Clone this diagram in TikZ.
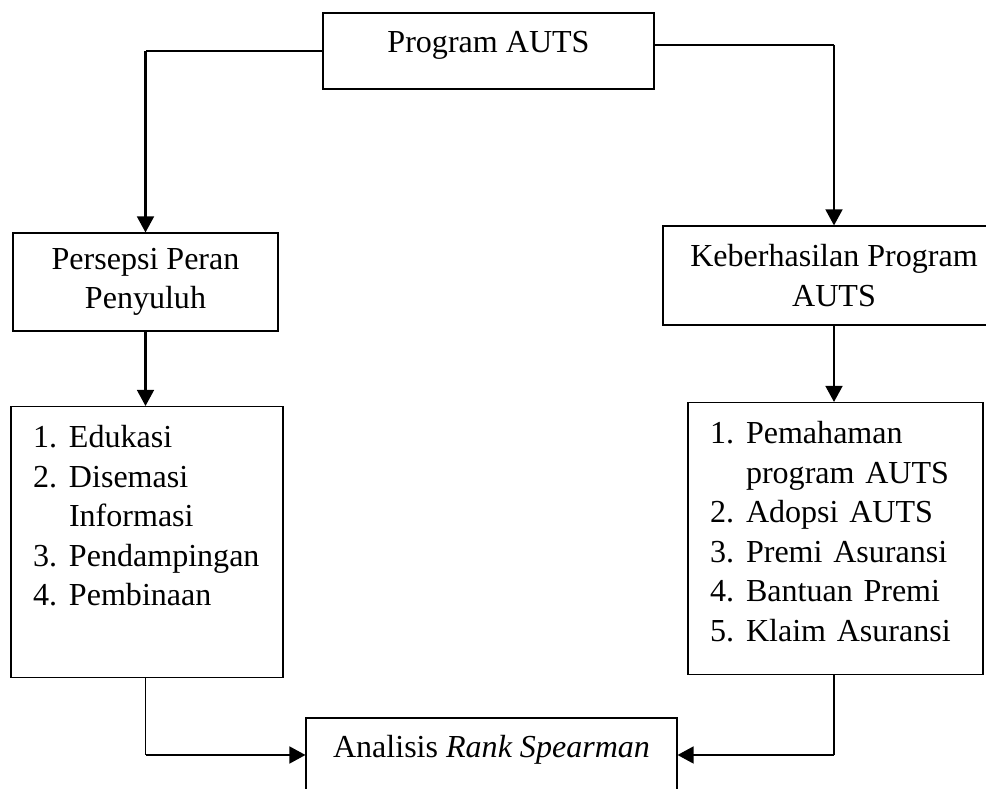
\documentclass[tikz,border=0pt]{standalone}
\usepackage{fontspec}
\setmainfont{Liberation Serif}
\usetikzlibrary{arrows.meta}
\tikzset{
  box/.style={draw, line width=0.75pt, inner sep=0pt},
  link/.style={line width=0.75pt},
  arrowlink/.style={line width=1.5pt, -{Triangle[length=0.4cm, width=0.42cm]}}
}
\newcommand{\itm}[2]{\makebox[0.9cm][l]{#1}\mbox{#2}}

\begin{document}
\begin{tikzpicture}[font=\fontsize{22.8}{28.1}\selectfont]
    \useasboundingbox (0,0) rectangle (24.65,19.725);

    % Nodes
    \node[box, anchor=base, minimum width=8.275cm, text height=1.0cm, text depth=0.9cm] (prog) at (12.2125,18.4) {Program AUTS};
    \node[box, align=center, minimum width=6.625cm, minimum height=2.45cm] (pers) at (3.6375,12.675) {Persepsi Peran\\Penyuluh};
    \node[box, align=center, minimum width=8.55cm, minimum height=2.475cm] (keb) at (20.85,12.8375) {Keberhasilan Program\\AUTS};
    \node[box, anchor=north, inner xsep=0.55cm, text width=5.7cm, text height=1.025cm, text depth=5.75cm] (lst1) at (3.675,9.575)
      {\itm{1.}{Edukasi}\\
       \itm{2.}{Disemasi}\\
       \itm{}{Informasi}\\
       \itm{3.}{Pendampingan}\\
       \itm{4.}{Pembinaan}};
    \node[box, anchor=north, inner xsep=0.55cm, text width=6.275cm, text height=1.025cm, text depth=5.775cm] (lst2) at (20.8875,9.675)
      {\itm{1.}{Pemahaman}\\
       \itm{}{program AUTS}\\
       \itm{2.}{Adopsi AUTS}\\
       \itm{3.}{Premi Asuransi}\\
       \itm{4.}{Bantuan Premi}\\
       \itm{5.}{Klaim Asuransi}};
    \node[box, anchor=base, minimum width=9.275cm, text height=1.0cm, text depth=0.85cm] (ana) at (12.2875,0.775) {Analisis \textit{Rank Spearman}};

    % Corners
    \coordinate (pe) at ([yshift=0.15cm]prog.east);
    \coordinate (cl) at (pers.north |- prog.west);
    \coordinate (cr) at (keb.north |- pe);
    \coordinate (bl) at (pers.south |- ana.west);
    \coordinate (br) at (keb.south |- ana.east);

    % Top branches
    \draw[link] (prog.west) -- (cl);
    \draw[arrowlink] (cl) -- (pers.north);
    \draw[link] (pe) -- (cr);
    \draw[arrowlink] (cr) -- (keb.north);

    % Down to the lists
    \draw[arrowlink] (pers.south) -- (pers.south |- lst1.north);
    \draw[arrowlink] (keb.south) -- (keb.south |- lst2.north);

    % Into the analysis
    \draw[link] (pers.south |- lst1.south) -- (bl);
    \draw[arrowlink] (bl) -- (ana.west);
    \draw[link] (keb.south |- lst2.south) -- (br);
    \draw[arrowlink] (br) -- (ana.east);

\end{tikzpicture}
\end{document}
